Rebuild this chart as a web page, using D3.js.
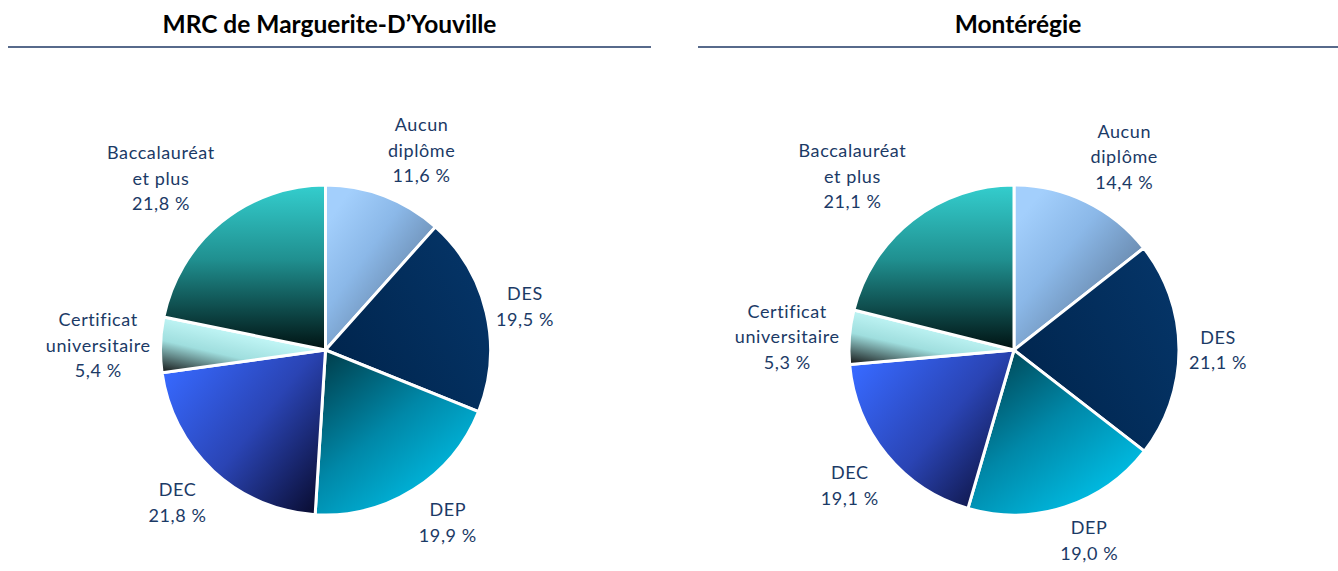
<!DOCTYPE html>
<html><head><meta charset="utf-8">
<script src="https://cdn.jsdelivr.net/npm/d3@7"></script>
<style>
html,body{margin:0;padding:0;background:#fff;}
svg{display:block;}
</style></head>
<body><svg id="chart" width="1338" height="571"></svg>
<script>
const categories = ["Aucun diplôme", "DES", "DEP", "DEC", "Certificat universitaire", "Baccalauréat et plus"];
const labelLines = [["Aucun","diplôme"],["DES"],["DEP"],["DEC"],["Certificat","universitaire"],["Baccalauréat","et plus"]];
const titles = ["MRC de Marguerite-D’Youville", "Montérégie"];
const valuesMRC = [11.6, 19.5, 19.9, 21.8, 5.4, 21.8];
const valuesMonteregie = [14.4, 21.1, 19.0, 19.1, 5.3, 21.1];
const seriesValues = [valuesMRC, valuesMonteregie];

// gradient definitions per category
const gradients = [
  {x1:0.15,y1:0.1,x2:0.9,y2:0.9, stops:[[0,"#a3cffc"],[0.35,"#8bb8e8"],[1,"#566f8c"]]},
  {x1:1,y1:0.2,x2:0,y2:0.8, stops:[[0,"#053568"],[1,"#00244c"]]},
  {x1:0.1,y1:0,x2:0.9,y2:1, stops:[[0,"#00404e"],[0.45,"#0088a8"],[1,"#00cdf6"]]},
  {x1:0,y1:0.15,x2:1,y2:0.95, stops:[[0,"#3769ff"],[0.5,"#2a44b4"],[1,"#080a2c"]]},
  {x1:0,y1:1,x2:0.55,y2:0.2, stops:[[0,"#111111"],[0.5,"#9fdede"],[1,"#cafcfc"]]},
  {x1:0,y1:0,x2:0,y2:1, stops:[[0,"#34cece"],[0.45,"#209090"],[1,"#001212"]]}
];

const svg = d3.select("#chart");
const panels = [{lx1:8, lx2:651}, {lx1:698, lx2:1338}];
const R = 165;
const cy = 350;
const labelColor = "#1b3a66";

const defs = svg.append("defs");
seriesValues.forEach((vals, p) => {
  gradients.forEach((g, i) => {
    const lg = defs.append("linearGradient").attr("id", `g${p}_${i}`)
      .attr("x1", g.x1).attr("y1", g.y1).attr("x2", g.x2).attr("y2", g.y2);
    g.stops.forEach(s => lg.append("stop").attr("offset", s[0]).attr("stop-color", s[1]));
  });
});

const pie = d3.pie().sort(null).value(d => d);
const arc = d3.arc().innerRadius(0).outerRadius(R);
const fmt = v => d3.format(".1f")(v).replace(".", ",") + " %";
const gfun = v => Math.max(0, Math.min(1, (Math.abs(v) - 0.2) / 0.15));

seriesValues.forEach((vals, p) => {
  const pn = panels[p];
  const mid = (pn.lx1 + pn.lx2) / 2;
  svg.append("text").attr("x", mid).attr("y", 33).attr("text-anchor", "middle")
    .attr("font-family", "Lato, 'Open Sans', sans-serif").attr("font-weight", "bold")
    .attr("font-size", 24.5).attr("fill", "#000").text(titles[p]);
  svg.append("line").attr("x1", pn.lx1).attr("x2", pn.lx2).attr("y1", 47).attr("y2", 47)
    .attr("stroke", "#1f3864").attr("stroke-width", 1.5);

  const cx = mid - 4;
  const g = svg.append("g").attr("transform", `translate(${cx},${cy})`);
  const arcs = pie(vals);
  g.selectAll("path").data(arcs).enter().append("path")
    .attr("d", arc)
    .attr("fill", (d, i) => `url(#g${p}_${i})`)
    .attr("stroke", "#fff").attr("stroke-width", 3).attr("stroke-linejoin", "round");

  arcs.forEach((d, i) => {
    const lines = labelLines[i].concat([fmt(vals[i])]);
    const t = g.append("text").attr("text-anchor", "middle")
      .attr("font-family", "Lato, 'Open Sans', sans-serif").attr("font-size", 18)
      .attr("letter-spacing", 0.6).attr("fill", labelColor);
    lines.forEach((ln, k) => t.append("tspan").attr("x", 0).attr("y", k * 25.5).text(ln));
    const bb = t.node().getBBox();
    const a = (d.startAngle + d.endAngle) / 2;
    const sx = Math.sin(a), sy = -Math.cos(a);
    const dist = R + 10;
    const ax = sx * dist, ay = sy * dist;
    const px = ax + Math.sign(sx) * gfun(sx) * bb.width / 2;
    const py = ay + Math.sign(sy) * gfun(sy) * bb.height / 2;
    const bcx = bb.x + bb.width / 2, bcy = bb.y + bb.height / 2;
    t.attr("transform", `translate(${px - bcx},${py - bcy})`);
  });
});
</script>
</body></html>
